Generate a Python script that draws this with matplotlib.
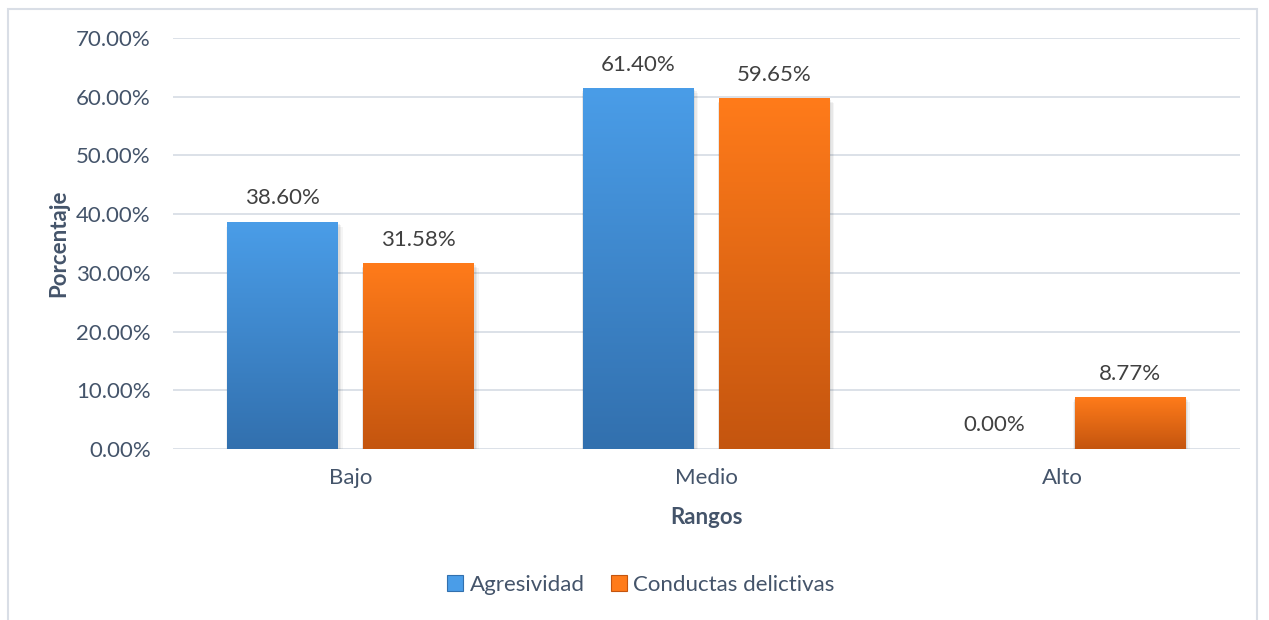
import numpy as np
import matplotlib
matplotlib.use("Agg")
from matplotlib import pyplot as plt
from matplotlib.colors import LinearSegmentedColormap
from matplotlib.patches import Rectangle, Patch
from matplotlib.ticker import FuncFormatter

categories = ["Bajo", "Medio", "Alto"]
agresividad = [38.60, 61.40, 0.00]
conductas = [31.58, 59.65, 8.77]
series_names = ["Agresividad", "Conductas delictivas"]
yticks = [0, 10, 20, 30, 40, 50, 60, 70]

text_col = "#44546a"
grid_col = "#d9dee6"
# bottom -> top gradient colours for each series
grads = [("#3270ae", "#4a9de8"), ("#c4550f", "#ff7b1a")]

plt.rcParams["font.family"] = ["Lato", "DejaVu Sans"]

fig = plt.figure(figsize=(12.69, 6.20), dpi=100)
ax = fig.add_axes([173/1269, 1 - 449/620, (1240 - 173)/1269, (449 - 38)/620])

# outer frame of the chart
fig.patches.append(Rectangle((8/1269, -0.05), (1257 - 8)/1269, 1 - 9/620 + 0.05,
                             transform=fig.transFigure, fill=False,
                             edgecolor=grid_col, lw=1.5, zorder=0))

x = np.arange(len(categories))
width = 0.312
offset = 0.191

ax.set_xlim(-0.5, len(categories) - 0.5)
ax.set_ylim(0, 70)

for s, vals in enumerate([agresividad, conductas]):
    cmap = LinearSegmentedColormap.from_list("g%d" % s, list(grads[s]))
    bars = ax.bar(x + (2*s - 1)*offset, vals, width, color="none", zorder=3)
    for b, v in zip(bars, vals):
        x0, w, h = b.get_x(), b.get_width(), b.get_height()
        if h > 0:
            # soft shadow
            for k, a in enumerate([0.06, 0.05, 0.04]):
                d = 0.004 * (k + 1)
                ax.add_patch(Rectangle((x0 - d*0.3, -0.25*(k + 1)), w + d*1.3, h,
                                       color="#000000", alpha=a, lw=0, zorder=2))
            grad = np.linspace(0, 1, 256).reshape(-1, 1)
            ax.imshow(grad, cmap=cmap, origin="lower", aspect="auto",
                      extent=(x0, x0 + w, 0, h), zorder=3)
        ax.annotate(f"{v:.2f}%", (x0 + w/2, h), xytext=(0, 10),
                    textcoords="offset points", ha="center", va="bottom",
                    fontsize=16, color="#404040")

ax.set_xlim(-0.5, len(categories) - 0.5)
ax.set_ylim(0, 70)
ax.set_yticks(yticks)
ax.yaxis.set_major_formatter(FuncFormatter(lambda v, p: f"{v:.2f}%"))
ax.set_xticks(x)
ax.set_xticklabels(categories)
ax.grid(axis="y", color=grid_col, lw=1.3, zorder=0)
ax.set_axisbelow(True)
for sp in ax.spines.values():
    sp.set_visible(False)
ax.tick_params(length=0, labelsize=16, colors=text_col)
ax.tick_params(axis="x", pad=14)
ax.tick_params(axis="y", pad=16)

ax.set_xlabel("Rangos", fontsize=16, fontweight="bold", color=text_col, labelpad=13)
ax.set_ylabel("Porcentaje", fontsize=16, fontweight="bold", color=text_col, labelpad=5)

handles = [Patch(facecolor=grads[0][1], edgecolor=grads[0][0], lw=0.8),
           Patch(facecolor=grads[1][1], edgecolor=grads[1][0], lw=0.8)]
fig.legend(handles, series_names, loc="center", bbox_to_anchor=(641/1269, 1 - 585/620),
           ncol=2, frameon=False, fontsize=16, labelcolor=text_col,
           handlelength=0.7, handleheight=0.7, handletextpad=0.3, columnspacing=1.2)

fig.savefig("out.png", dpi=100, facecolor="white")
